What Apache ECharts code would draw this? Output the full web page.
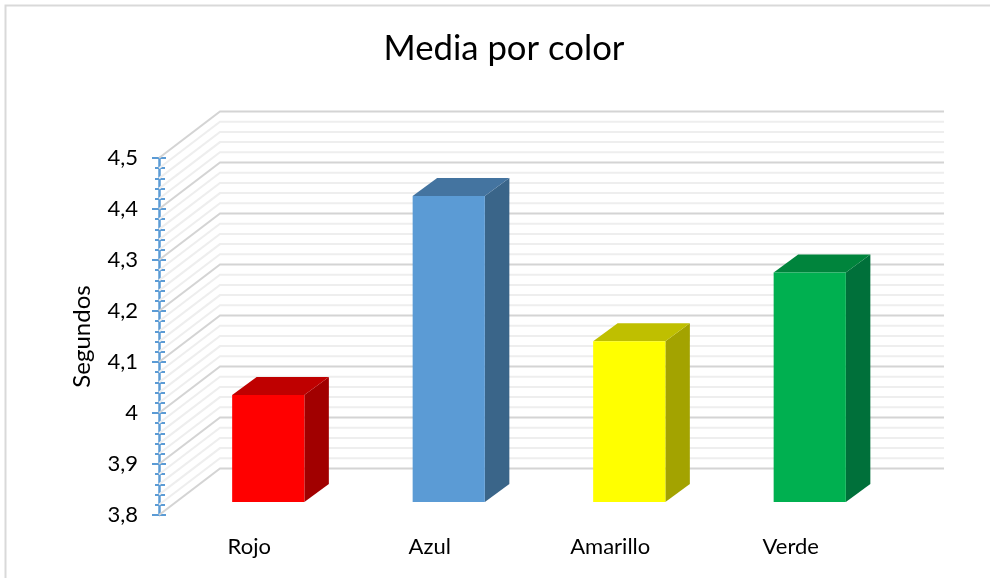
<!DOCTYPE html>
<html>
<head>
<meta charset="utf-8">
<style>html,body{margin:0;padding:0;background:#fff}#c{width:990px;height:578px}</style>
<script src="https://cdn.jsdelivr.net/npm/echarts@6/dist/echarts.min.js"></script>
</head>
<body>
<div id="c"></div>
<script>
// Average response time per colour
const categories = ['Rojo', 'Azul', 'Amarillo', 'Verde'];
const meanSeconds = [4.01, 4.40, 4.115, 4.25];
const faceColors = ['#ff0000', '#5b9bd5', '#ffff00', '#00b050'];
const topColors = ['#bf0000', '#4474a0', '#bfbf00', '#00843c'];
const sideColors = ['#a10000', '#3a6589', '#a3a300', '#00703a'];
const majorTicks = [3.8, 3.9, 4.0, 4.1, 4.2, 4.3, 4.4, 4.5];
const minorTicks = [3.82, 3.84, 3.86, 3.88, 3.92, 3.94, 3.96, 3.98,
  4.02, 4.04, 4.06, 4.08, 4.12, 4.14, 4.16, 4.18,
  4.22, 4.24, 4.26, 4.28, 4.32, 4.34, 4.36, 4.38,
  4.42, 4.44, 4.46, 4.48];
const tickLabels = { '3.8': '3,8', '3.9': '3,9', '4': '4', '4.1': '4,1', '4.2': '4,2', '4.3': '4,3', '4.4': '4,4', '4.5': '4,5' };

// Pseudo-3D projection, in pixels
const WALL_DX = 61, WALL_DY = -46.5, WALL_END = 944;
const BAR_DX = 19, BAR_DY = -13, BAR_DEPTH_X = 24.5, BAR_DEPTH_Y = -18;
const FONT = 'Lato';

function wallLine(color, width) {
  return function (params, api) {
    const y = api.coord([0, api.value(0)])[1];
    const x0 = params.coordSys.x;
    const style = { stroke: color, lineWidth: width, fill: null };
    return {
      type: 'polyline',
      shape: { points: [[x0, y], [x0 + WALL_DX, y + WALL_DY], [WALL_END, y + WALL_DY]] },
      style: style,
      silent: true
    };
  };
}

function renderBar(params, api) {
  const i = api.value(0);
  const top = api.coord([i, api.value(1)]);
  const base = api.coord([i, 3.8]);
  const w = api.size([1, 0])[0] * 0.4;
  const l = top[0] + BAR_DX - w / 2, r = l + w;
  const t = top[1] + BAR_DY, b = base[1] + BAR_DY;
  const dx = BAR_DEPTH_X, dy = BAR_DEPTH_Y;
  return {
    type: 'group',
    children: [
      { type: 'polygon', shape: { points: [[r, t], [r + dx, t + dy], [r + dx, b + dy], [r, b]] },
        style: { fill: sideColors[i] } },
      { type: 'polygon', shape: { points: [[l, t], [l + dx, t + dy], [r + dx, t + dy], [r, t]] },
        style: { fill: topColors[i] } },
      { type: 'rect', shape: { x: l, y: t, width: w, height: b - t },
        style: { fill: faceColors[i] } }
    ]
  };
}

const sharedY = {
  type: 'value', min: 3.8, max: 4.5, interval: 0.1, position: 'left',
  splitLine: { show: false }, minorSplitLine: { show: false }
};

const chart = echarts.init(document.getElementById('c'), null, { renderer: 'canvas' });
chart.setOption({
  animation: false,
  backgroundColor: '#ffffff',
  title: {
    text: 'Media por color', left: 499, top: 26, textAlign: 'center',
    textStyle: { fontFamily: FONT, fontSize: 34.7, fontWeight: 'normal', color: '#000' }
  },
  grid: { left: 159, top: 158, width: 722, height: 357 },
  xAxis: {
    type: 'category', data: categories,
    axisLine: { show: false }, axisTick: { show: false },
    axisLabel: { fontFamily: FONT, fontSize: 22, color: '#000', margin: 21 }
  },
  yAxis: [
    Object.assign({}, sharedY, {
      name: 'Segundos', nameLocation: 'middle', nameGap: 65,
      nameTextStyle: { fontFamily: FONT, fontSize: 24, color: '#000' },
      axisLine: { show: true, lineStyle: { color: '#5b9bd5', width: 2.5 } },
      axisTick: { show: true, length: 7, lineStyle: { color: '#5b9bd5', width: 2 } },
      minorTick: { show: true, splitNumber: 5, length: 4, lineStyle: { color: '#5b9bd5', width: 2 } },
      axisLabel: {
        fontFamily: FONT, fontSize: 22, color: '#000', margin: 21,
        formatter: v => tickLabels[String(Math.round(v * 10) / 10)]
      }
    }),
    Object.assign({}, sharedY, {
      axisLine: { show: false },
      axisLabel: { show: false },
      axisTick: { show: true, inside: true, length: 7, lineStyle: { color: '#5b9bd5', width: 2 } },
      minorTick: { show: true, splitNumber: 5, length: 6, lineStyle: { color: '#5b9bd5', width: 2 } }
    })
  ],
  series: [
    { type: 'custom', name: 'minor', coordinateSystem: 'cartesian2d', z: 1,
      data: minorTicks.map(v => [v]), encode: { y: 0 },
      renderItem: wallLine('#eeeeee', 2) },
    { type: 'custom', name: 'major', coordinateSystem: 'cartesian2d', z: 2,
      data: majorTicks.map(v => [v]), encode: { y: 0 },
      renderItem: wallLine('#d4d4d4', 2) },
    { type: 'custom', name: 'Media', coordinateSystem: 'cartesian2d', z: 3,
      data: meanSeconds.map((v, i) => [i, v]), encode: { x: 0, y: 1 },
      renderItem: renderBar }
  ],
  graphic: [{
    type: 'polyline', silent: true, z: 0,
    shape: { points: [[5.5, 578], [5.5, 5.5], [990, 5.5]] },
    style: { stroke: '#d9d9d9', lineWidth: 2, fill: null }
  }]
});
</script>
</body>
</html>
